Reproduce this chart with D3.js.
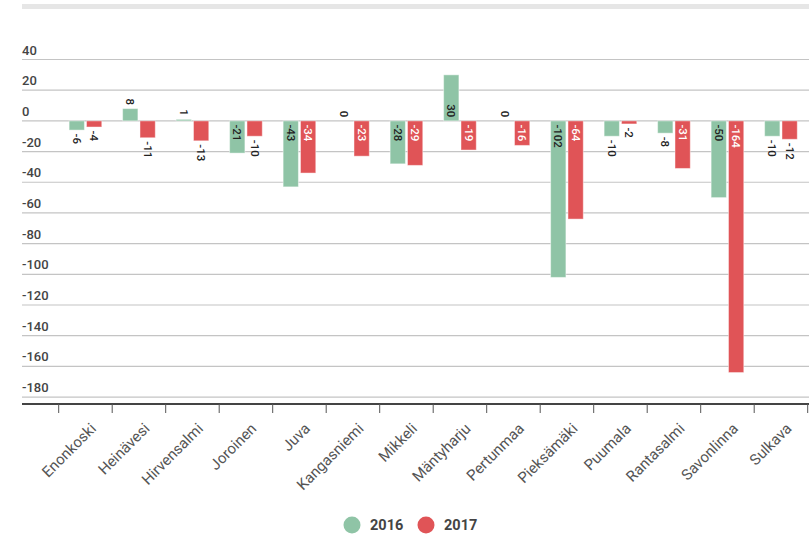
<!DOCTYPE html>
<html>
<head>
<meta charset="utf-8">
<script src="https://cdn.jsdelivr.net/npm/d3@7"></script>
<style>
  body { margin: 0; background: #fff; }
  svg { font-family: Roboto, "Noto Sans", sans-serif; }
</style>
</head>
<body>
<svg id="chart" width="809" height="538"></svg>
<script>
const municipalities = ["Enonkoski", "Heinävesi", "Hirvensalmi", "Joroinen", "Juva", "Kangasniemi",
    "Mikkeli", "Mäntyharju", "Pertunmaa", "Pieksämäki", "Puumala", "Rantasalmi", "Savonlinna", "Sulkava"];
const years = ["2016", "2017"];
const values2016 = [-6, 8, 1, -21, -43, 0, -28, 30, 0, -102, -10, -8, -50, -10];
const values2017 = [-4, -11, -13, -10, -34, -23, -29, -19, -16, -64, -2, -31, -164, -12];
const yTicks = [40, 20, 0, -20, -40, -60, -80, -100, -120, -140, -160, -180];
const colors = { "2016": "#8fc4a6", "2017": "#e05457" };

const svg = d3.select("#chart");
const width = 809;

// flatten into rows for the bars
const rows = [];
municipalities.forEach((m, i) => {
    rows.push({ name: m, year: "2016", value: values2016[i] });
    rows.push({ name: m, year: "2017", value: values2017[i] });
});

// scales
const x0 = d3.scaleBand()
    .domain(municipalities)
    .range([58.7, 807.7])
    .padding(0);

const x1 = d3.scaleBand()
    .domain(years)
    .range([0, x0.bandwidth()])
    .paddingInner(0.12)
    .paddingOuter(0.6);

const y = d3.scaleLinear()
    .domain([-184.5, 40])
    .range([404, 59.5]);

// grey band at the top
svg.append("rect")
    .attr("x", 22)
    .attr("y", 4)
    .attr("width", width - 22)
    .attr("height", 5)
    .attr("fill", "#e6e6e6");

// grid lines + labels
const grid = svg.append("g");
grid.selectAll("line")
    .data(yTicks)
    .join("line")
    .attr("x1", 22)
    .attr("x2", width)
    .attr("y1", d => y(d))
    .attr("y2", d => y(d))
    .attr("stroke", "#c4c4c4")
    .attr("stroke-width", 1.2);

grid.selectAll("text")
    .data(yTicks)
    .join("text")
    .attr("x", 22)
    .attr("y", d => y(d) - 5)
    .text(d => d)
    .attr("fill", "#444")
    .style("font-size", "13px")
    .style("font-weight", "500");

// x axis
const xAxis = svg.append("g")
    .attr("transform", `translate(0,${y.range()[0]})`);

xAxis.append("line")
    .attr("x1", 22)
    .attr("x2", width)
    .attr("stroke", "#444")
    .attr("stroke-width", 2);

xAxis.selectAll("line.tick")
    .data(municipalities)
    .join("line")
    .attr("class", "tick")
    .attr("x1", d => x0(d))
    .attr("x2", d => x0(d))
    .attr("y1", 0)
    .attr("y2", 9)
    .attr("stroke", "#555")
    .attr("stroke-width", 1);

xAxis.append("line")
    .attr("x1", x0.range()[1])
    .attr("x2", x0.range()[1])
    .attr("y1", 0)
    .attr("y2", 9)
    .attr("stroke", "#555");

xAxis.selectAll("text")
    .data(municipalities)
    .join("text")
    .attr("transform", d => `translate(${x0(d) + x0.bandwidth() / 2 + 4},18) rotate(-45)`)
    .attr("text-anchor", "end")
    .attr("dy", "0.71em")
    .text(d => d)
    .attr("fill", "#555")
    .style("font-size", "15px");

// bars
svg.append("g")
    .selectAll("rect")
    .data(rows)
    .join("rect")
    .attr("x", d => x0(d.name) + x1(d.year))
    .attr("y", d => y(Math.max(0, d.value)))
    .attr("width", x1.bandwidth())
    .attr("height", d => Math.abs(y(d.value) - y(0)))
    .attr("fill", d => colors[d.year])
    .attr("stroke", "#fff")
    .attr("stroke-opacity", 0.45)
    .attr("stroke-width", 1);

// value labels, rotated, inside the bar when they fit
const pad = 3.5;
const labels = svg.append("g")
    .selectAll("text")
    .data(rows)
    .join("text")
    .text(d => d.value)
    .style("font-size", "11.5px")
    .style("font-weight", "500")
    .attr("dy", "0.35em");

labels.each(function(d) {
    const el = d3.select(this);
    const len = this.getComputedTextLength();
    const barH = Math.abs(y(d.value) - y(0));
    const inside = len + 2 * pad <= barH;
    const cx = x0(d.name) + x1(d.year) + x1.bandwidth() / 2;
    let ty, anchor;
    if (d.value < 0) {
        ty = inside ? y(0) + pad : y(d.value) + pad;
        anchor = "start";
    } else {
        ty = inside ? y(0) - pad : y(d.value) - pad;
        anchor = "end";
    }
    el.attr("text-anchor", anchor)
        .attr("transform", `translate(${cx},${ty}) rotate(90)`)
        .attr("fill", inside && d.year === "2017" ? "#fff" : "#222");
});

// legend
const legend = svg.append("g")
    .attr("transform", "translate(352,525)");

const legendItems = legend.selectAll("g")
    .data(years)
    .join("g")
    .attr("transform", (d, i) => `translate(${i * 74},0)`);

legendItems.append("circle")
    .attr("r", 8.5)
    .attr("fill", d => colors[d]);

legendItems.append("text")
    .attr("x", 18)
    .attr("dy", "0.36em")
    .text(d => d)
    .attr("fill", "#444")
    .style("font-size", "14.5px")
    .style("font-weight", "bold");
</script>
</body>
</html>
